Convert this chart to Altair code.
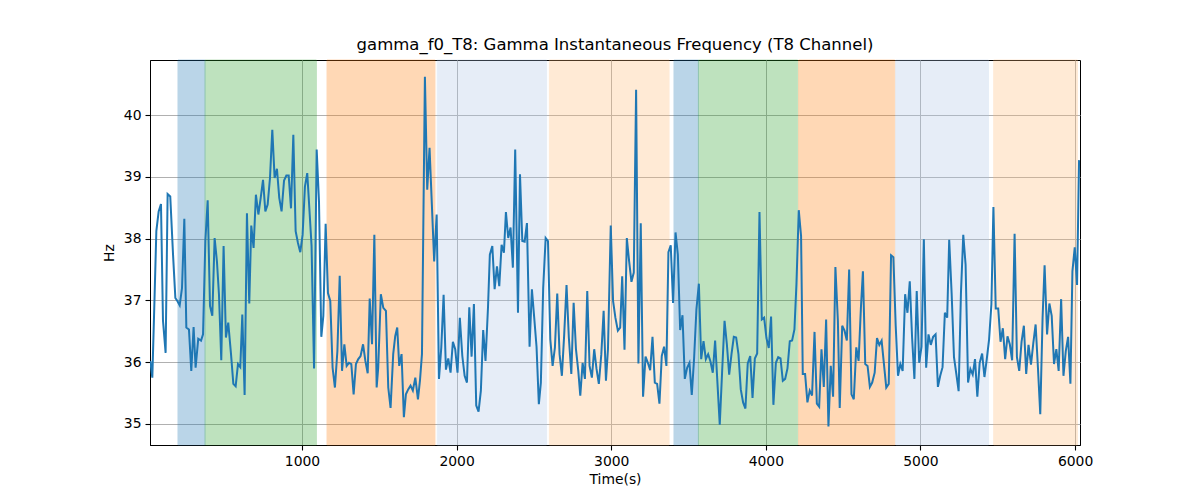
import altair as alt
import pandas as pd

TITLE = "gamma_f0_T8: Gamma Instantaneous Frequency (T8 Channel)"

times = [
    19, 32, 47, 58, 73, 88, 101, 118, 131, 148, 166, 181, 194, 209, 224, 239, 252, 269, 284, 299,
    312, 329, 347, 360, 375, 390, 405, 420, 435, 450, 463, 478, 493, 508, 523, 541, 556, 571, 586, 601,
    614, 629, 644, 659, 672, 687, 702, 718, 733, 748, 763, 778, 793, 808, 823, 838, 853, 868, 884, 899,
    914, 929, 944, 959, 974, 989, 1004, 1019, 1034, 1050, 1062, 1078, 1095, 1110, 1125, 1138, 1153, 1168,
    1183, 1198, 1213, 1229, 1244, 1259, 1274, 1289, 1304, 1319, 1334, 1349, 1364, 1379, 1395, 1410, 1425,
    1438, 1453, 1468, 1483,
    1493, 1510, 1526, 1543, 1558, 1573, 1590, 1603, 1616, 1629, 1644, 1659, 1672, 1687, 1702, 1717, 1733,
    1750, 1763, 1776, 1795, 1810, 1825, 1840, 1855, 1871, 1886, 1901, 1916, 1931, 1946, 1961, 1976,
    1991, 2006, 2021, 2037, 2052, 2067, 2082, 2097, 2112, 2127, 2142, 2157, 2172, 2187, 2203, 2215, 2231,
    2246, 2261, 2276, 2291, 2306, 2319, 2334, 2349, 2364, 2379, 2397, 2410, 2425, 2440, 2455, 2472, 2487,
    2502, 2517, 2532, 2545, 2560, 2576, 2591, 2606, 2621, 2636, 2651, 2666, 2681, 2696, 2711, 2726, 2742,
    2757, 2772, 2787, 2800, 2815, 2830, 2845, 2860, 2875, 2890, 2905, 2920, 2936, 2951, 2966, 2979,
    2997, 3012, 3027, 3043, 3058, 3071, 3086, 3101, 3116, 3131, 3146, 3161, 3176, 3191, 3206, 3222, 3237,
    3252, 3267, 3282, 3297, 3312, 3327, 3342, 3357, 3370, 3385, 3400, 3416, 3431, 3446, 3461, 3476, 3491,
    3506, 3521, 3536, 3551, 3567, 3582, 3597, 3612, 3627, 3642, 3657, 3672, 3687, 3702, 3717, 3733, 3748,
    3763, 3778, 3793, 3808, 3823, 3838, 3853, 3868, 3883, 3899, 3914, 3929, 3944, 3959, 3974, 3989, 4004,
    4019, 4034, 4049, 4065, 4080, 4095, 4110, 4125, 4140, 4155, 4170, 4185, 4198, 4213, 4228, 4239, 4254,
    4269, 4284, 4299, 4315, 4330, 4345, 4360, 4375, 4390, 4405, 4420, 4435, 4450, 4466,
    4478, 4494, 4509, 4524, 4539, 4554, 4569, 4585, 4600, 4615, 4628, 4643, 4658, 4673, 4688, 4704, 4719,
    4734, 4749, 4764, 4779, 4795, 4810, 4825, 4840, 4855, 4870, 4885, 4901, 4916, 4931, 4946, 4961, 4976,
    4992, 5007, 5022, 5037, 5052, 5067, 5082, 5098, 5113, 5128, 5143, 5158, 5173, 5186, 5202, 5217, 5232,
    5247, 5262, 5277, 5292, 5308, 5323, 5338, 5353, 5368, 5383, 5399, 5414, 5429, 5444, 5459, 5472, 5487,
    5503, 5518, 5533, 5548, 5563, 5578, 5593, 5609, 5624, 5639, 5654, 5669, 5684, 5699, 5715, 5730, 5745,
    5760, 5775, 5790, 5803, 5819, 5834, 5849, 5864, 5879, 5894, 5910, 5925, 5940, 5955, 5970, 5983, 5998,
    6013, 6026,
]

hz = [
    36.02, 35.75, 37.10, 38.12, 38.44, 38.56, 36.67, 36.15, 38.72, 38.68, 37.74, 37.04, 36.99, 36.92, 37.20,
    38.32, 36.56, 36.53, 35.86, 36.57, 35.91, 36.38, 36.35, 36.45, 37.96, 38.62, 36.91, 36.75, 38.01, 37.63,
    37.10, 36.03, 37.88, 36.40, 36.64, 36.13, 35.65, 35.61, 35.97, 35.92, 36.77, 35.47, 38.41, 36.95, 38.21,
    37.85, 38.71, 38.39, 38.66, 38.95, 38.44, 38.55, 38.98, 39.76, 38.98, 39.13, 38.66, 38.44, 38.94, 39.02,
    39.02, 38.49, 39.68, 38.12, 37.93, 37.78, 38.06, 38.84, 39.06, 38.39, 37.88, 35.90, 39.44, 38.60, 36.41,
    36.75, 38.24, 37.12, 36.99, 35.91, 35.59, 36.18, 37.40, 35.86, 36.29, 35.94, 35.99, 35.97, 35.48, 35.97,
    36.05, 36.10, 36.29, 36.02, 35.82, 37.03, 36.29, 38.06, 35.59,
    35.91, 37.10, 36.88, 36.83, 35.59, 35.26, 36.13, 36.42, 36.56, 35.94, 36.13, 35.11, 35.48, 35.56, 35.62,
    35.54, 35.75, 35.40, 35.70, 36.13, 40.62, 38.79, 39.47, 38.55, 37.63, 38.39, 35.73, 36.24, 37.09,
    35.88, 36.06, 35.83, 36.33, 36.21, 35.83, 36.72, 36.10, 35.78, 35.67, 36.89, 36.09, 36.94, 35.30, 35.20,
    35.54, 36.52, 36.02, 36.88, 37.74, 37.88, 37.18, 37.55, 37.23, 37.90, 37.77, 38.43, 38.01, 38.18, 37.53,
    39.44, 36.80, 39.04, 37.96, 37.95, 38.25, 36.25, 37.18, 36.72, 36.25, 35.32, 35.67, 37.20, 38.01, 37.96,
    36.37, 35.94, 36.24, 37.11, 36.13, 35.78, 36.45, 37.25, 36.40, 35.81, 36.96, 36.21, 35.86, 35.46, 35.99,
    35.73, 37.15, 35.94, 35.75, 36.21, 35.89, 35.65, 36.13, 36.83, 35.70, 36.21,
    38.21, 36.99, 36.72, 36.51, 36.56, 37.39, 36.20, 38.01, 37.63, 37.30, 37.45, 40.41, 35.98, 38.25, 35.44,
    36.09, 35.99, 35.87, 36.41, 35.67, 35.65, 35.33, 36.10, 36.25, 35.94, 37.78, 37.89, 36.96, 38.10, 37.74,
    36.52, 36.76, 35.73, 35.91, 35.99, 35.47, 36.06, 36.85, 37.27, 36.05, 36.34, 36.05, 36.13, 36.01, 35.83,
    36.35, 35.67, 34.99, 35.83, 36.67, 36.29, 35.80, 36.13, 36.41, 36.40, 36.13, 35.56, 35.35, 35.25, 35.98,
    36.10, 35.42, 36.06, 36.14, 38.43, 36.69, 36.72, 36.39, 36.23, 36.74, 35.31, 35.99, 36.08, 36.06, 35.70,
    35.73, 35.90, 36.34, 36.35, 36.53, 37.26, 38.46, 38.04, 35.81, 35.81, 35.35, 35.54, 35.46, 36.49, 35.33,
    35.28, 36.21, 35.60, 36.69, 34.96, 35.94, 35.44, 37.54, 36.67,
    35.26, 36.59, 36.51, 36.35, 37.50, 35.48, 35.40, 36.24, 36.02, 36.88, 37.47, 35.97, 35.94, 35.60, 35.67,
    35.83, 36.39, 36.28, 36.35, 35.97, 35.59, 35.65, 37.73, 37.70, 36.59, 35.78, 35.97, 35.86, 37.10, 36.80,
    37.31, 36.40, 35.73, 37.15, 35.99, 36.25, 37.99, 35.91, 36.45, 36.28, 36.41, 36.45, 35.60, 35.78, 35.92,
    36.80, 36.72, 37.98, 37.10, 36.08, 35.81, 35.53, 37.12, 38.06, 37.58, 35.67, 35.89, 35.80, 36.05, 35.44,
    35.99, 36.14, 35.76, 36.05, 36.37, 36.94, 38.51, 36.87, 36.87, 36.33, 36.55, 36.05, 36.42, 36.29, 36.03,
    38.08, 36.08, 35.86, 36.33, 36.59, 35.81, 36.28, 35.96, 36.31, 36.61, 35.91, 35.16, 36.72, 37.57, 36.45,
    36.95, 36.75, 35.97, 36.21, 35.86, 37.02, 35.78, 36.18, 36.41, 35.65, 37.47, 37.86, 37.25, 39.27,
]

span_start = [198, 373, 1162, 1875, 2600, 3406, 3564, 4212, 4840, 5474]
span_end = [373, 1093, 1860, 2582, 3374, 3564, 4206, 4834, 5440, 6015]
span_color = ["#1f77b4", "#2ca02c", "#ff7f0e", "#aec7e8", "#ffbb78",
              "#1f77b4", "#2ca02c", "#ff7f0e", "#aec7e8", "#ffbb78"]

x_ticks = [1000, 2000, 3000, 4000, 5000, 6000]
y_ticks = [35, 36, 37, 38, 39, 40]
x_domain = [17, 6032]
y_domain = [34.66, 40.89]

line_df = pd.DataFrame({"t": times, "hz": hz})
span_df = pd.DataFrame({"start": span_start, "end": span_end, "color": span_color})

x_axis = alt.Axis(values=x_ticks, title="Time(s)", grid=True, format="d")
y_axis = alt.Axis(values=y_ticks, title="Hz", grid=True, format="d")
x_scale = alt.Scale(domain=x_domain, nice=False, zero=False)
y_scale = alt.Scale(domain=y_domain, nice=False, zero=False)

spans = alt.Chart(span_df).mark_rect(opacity=0.3, strokeWidth=1).encode(
    x=alt.X("start:Q", scale=x_scale, axis=x_axis),
    x2="end:Q",
    color=alt.Color("color:N", scale=None),
    stroke=alt.Stroke("color:N", scale=None),
)

line = alt.Chart(line_df).mark_line(color="#1f77b4", strokeWidth=2, clip=True).encode(
    x=alt.X("t:Q", scale=x_scale, axis=x_axis),
    y=alt.Y("hz:Q", scale=y_scale, axis=y_axis),
)

chart = alt.layer(spans, line).properties(
    width=930,
    height=385,
    title=alt.TitleParams(TITLE, fontSize=16.5, fontWeight="normal", font="DejaVu Sans",
                          color="black", offset=6, anchor="middle"),
    autosize=alt.AutoSizeParams(type="none"),
    padding={"left": 142, "top": 52, "right": 112, "bottom": 47},
).configure_view(
    stroke="black", strokeWidth=1
).configure_axis(
    labelFont="DejaVu Sans", titleFont="DejaVu Sans",
    labelFontSize=13.9, titleFontSize=13.9, titleFontWeight="normal",
    labelColor="black", titleColor="black",
    domainColor="black", domainWidth=1,
    tickColor="black", tickSize=5, tickWidth=1.1, labelPadding=4,
    gridColor="#b0b0b0", gridWidth=1,
).configure_axisX(
    titlePadding=5,
).configure_axisY(
    titlePadding=7,
)

chart.save("out.html", embed_options={"renderer": "svg", "actions": False})
